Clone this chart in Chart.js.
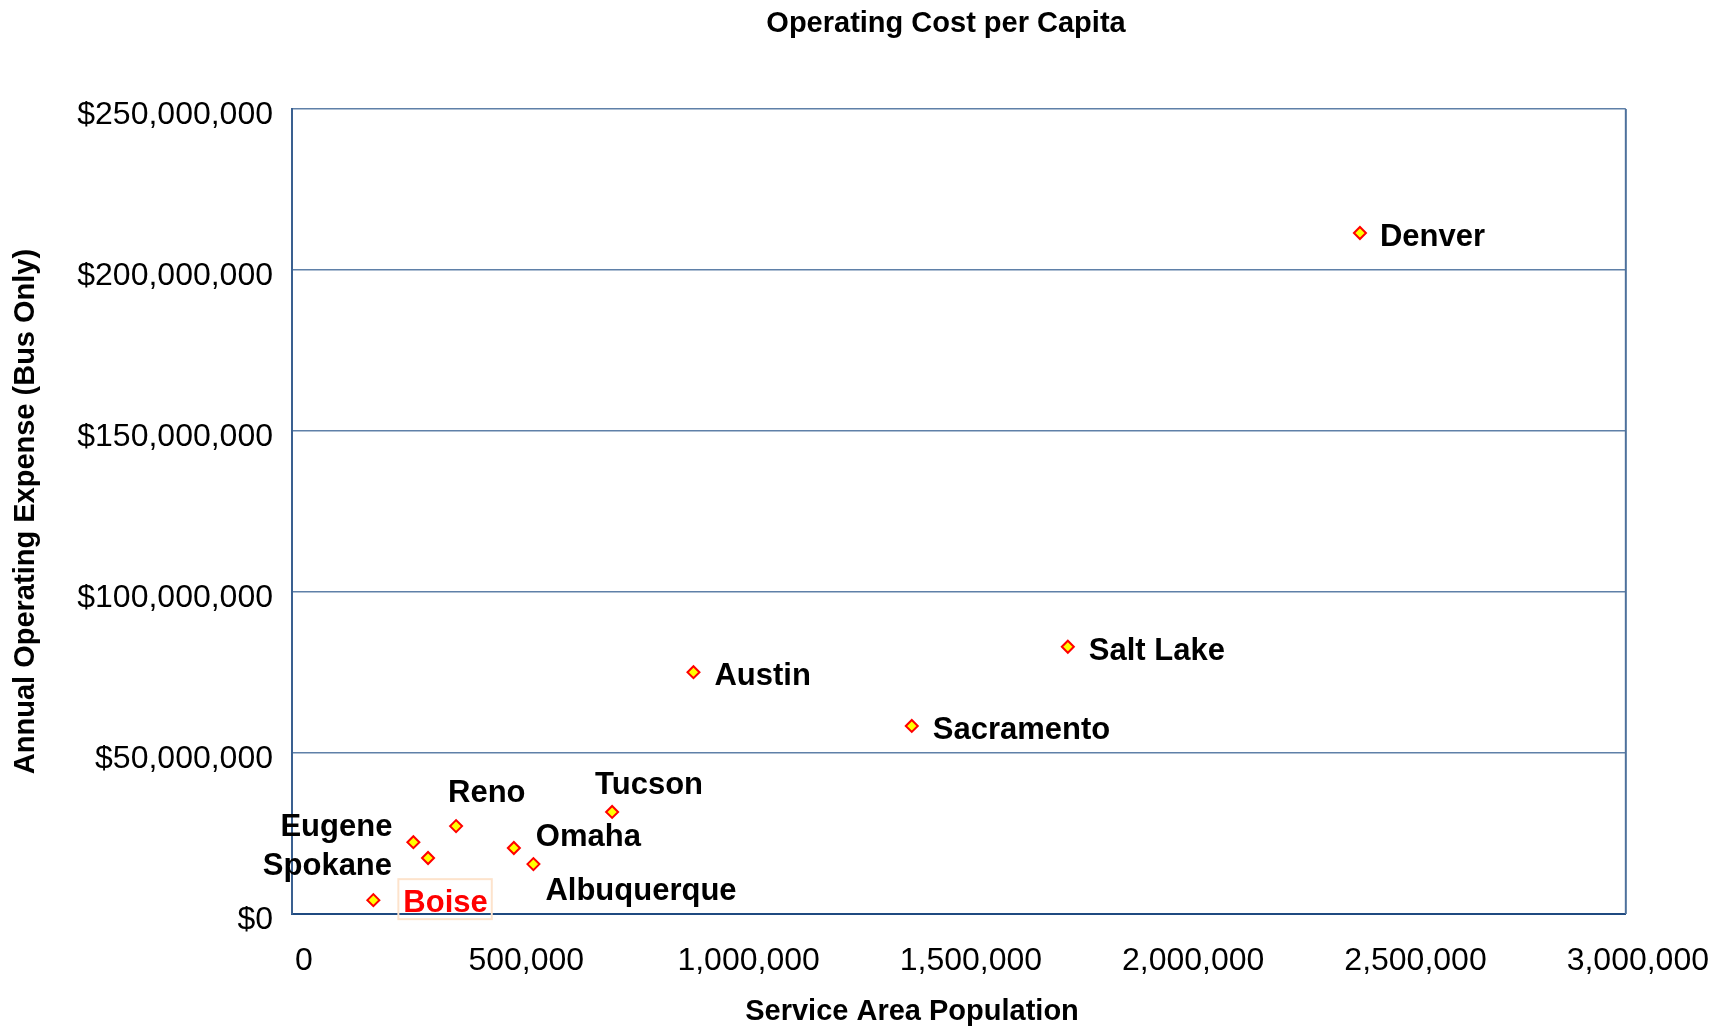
<!DOCTYPE html>
<html>
<head>
<meta charset="utf-8">
<title>Operating Cost per Capita</title>
<script src="https://cdn.jsdelivr.net/npm/chart.js@4.4.1/dist/chart.umd.min.js"></script>
<style>
  html, body { margin: 0; padding: 0; background: #fff; }
  #wrap { width: 1725px; height: 1029px; }
</style>
</head>
<body>
<div id="wrap"><canvas id="costChart" width="1725" height="1029"></canvas></div>
<script>
// --- data ---
const cities = ["Denver", "Salt Lake", "Austin", "Sacramento", "Tucson", "Reno",
                "Eugene", "Spokane", "Omaha", "Albuquerque", "Boise"];
const population = [2402000, 1745000, 903000, 1394000, 720000, 369000,
                    273000, 306000, 499000, 543000, 183000];
const operatingExpense = [211500000, 83000000, 75100000, 58400000, 31700000, 27300000,
                          22300000, 17400000, 20500000, 15500000, 4300000];
const xTicks = [0, 500000, 1000000, 1500000, 2000000, 2500000, 3000000];
const yTicks = [0, 50000000, 100000000, 150000000, 200000000, 250000000];

const FONT = "'Liberation Sans', Arial, sans-serif";

// where each city name sits relative to its marker (dx, dy to cap centre)
const labelPlacement = {
  "Denver":      { dx: 20,  dy: 2,   align: "left" },
  "Salt Lake":   { dx: 21,  dy: 2,   align: "left" },
  "Austin":      { dx: 21,  dy: 2,   align: "left" },
  "Sacramento":  { dx: 21,  dy: 2,   align: "left" },
  "Tucson":      { dx: -17, dy: -29, align: "left" },
  "Reno":        { dx: -8,  dy: -35, align: "left" },
  "Eugene":      { dx: -21, dy: -17, align: "right" },
  "Spokane":     { dx: -36, dy: 6,   align: "right" },
  "Omaha":       { dx: 22,  dy: -13, align: "left" },
  "Albuquerque": { dx: 12,  dy: 25,  align: "left" },
  "Boise":       { dx: 30,  dy: 1,   align: "left", color: "#ff0000", box: "#fde3cc" }
};

const points = population.map((p, i) => ({ x: p, y: operatingExpense[i] }));

// --- city labels + titles + plot frame ---
const annotations = {
  id: "annotations",
  beforeDatasetsDraw(chart) {
    const { ctx, chartArea } = chart;
    ctx.save();
    ctx.strokeStyle = "#4d719c";
    ctx.lineWidth = 2;
    ctx.beginPath();
    ctx.moveTo(chartArea.right, chartArea.top);
    ctx.lineTo(chartArea.right, chartArea.bottom);
    ctx.stroke();
    ctx.restore();
  },
  afterDraw(chart) {
    const { ctx } = chart;
    const meta = chart.getDatasetMeta(0);
    ctx.save();
    ctx.font = "bold 31px " + FONT;
    ctx.textBaseline = "alphabetic";
    meta.data.forEach((pt, i) => {
      const name = cities[i];
      const pl = labelPlacement[name];
      const capMid = pt.y + pl.dy;
      const baseY = capMid + 11;
      const w = ctx.measureText(name).width;
      const left = pl.align === "left" ? pt.x + pl.dx : pt.x + pl.dx - w;
      if (pl.box) {
        ctx.strokeStyle = pl.box;
        ctx.lineWidth = 2;
        ctx.strokeRect(left - 5, capMid - 22, w + 9, 40);
      }
      ctx.fillStyle = pl.color || "#000";
      ctx.textAlign = "left";
      ctx.fillText(name, left, baseY);
    });

    ctx.font = "bold 29px " + FONT;
    ctx.fillStyle = "#000";
    ctx.textAlign = "center";
    ctx.fillText("Operating Cost per Capita", 946, 32);
    ctx.fillText("Service Area Population", 912, 1020);
    ctx.restore();
  }
};

new Chart(document.getElementById("costChart"), {
  type: "scatter",
  data: {
    datasets: [{
      label: "Operating Expense",
      data: points,
      pointStyle: "rectRot",
      pointRadius: 6,
      pointHoverRadius: 6,
      pointBackgroundColor: "#ffff00",
      pointBorderColor: "#ff0000",
      pointBorderWidth: 2
    }]
  },
  options: {
    responsive: false,
    animation: false,
    layout: { padding: { top: 109, right: 99, left: 0, bottom: 0 } },
    plugins: {
      legend: { display: false },
      tooltip: { enabled: false },
      title: { display: false }
    },
    scales: {
      x: {
        type: "linear",
        min: 0,
        max: 3000000,
        afterBuildTicks: (scale) => { scale.ticks = xTicks.map(v => ({ value: v })); },
        afterFit: (scale) => { scale.height = 115; },
        grid: { display: false, drawTicks: false },
        border: { display: true, color: "#1f4a80", width: 2 },
        ticks: {
          padding: 28,
          labelOffset: 12,
          color: "#000",
          font: { family: FONT, size: 32 },
          callback: (v) => Number(v).toLocaleString("en-US")
        }
      },
      y: {
        type: "linear",
        min: 0,
        max: 250000000,
        afterBuildTicks: (scale) => { scale.ticks = yTicks.map(v => ({ value: v })); },
        afterFit: (scale) => { scale.width = 292; },
        grid: { color: "#5f80a8", lineWidth: 1.5, drawTicks: false },
        border: { display: true, color: "#3a6090", width: 2 },
        title: {
          display: true,
          text: "Annual Operating Expense (Bus Only)",
          color: "#000",
          font: { family: FONT, size: 29, weight: "bold" },
          padding: { top: 9, bottom: 0 }
        },
        ticks: {
          padding: 19,
          labelOffset: 6,
          color: "#000",
          font: { family: FONT, size: 32 },
          callback: (v) => "$" + Number(v).toLocaleString("en-US")
        }
      }
    }
  },
  plugins: [annotations]
});
</script>
</body>
</html>
